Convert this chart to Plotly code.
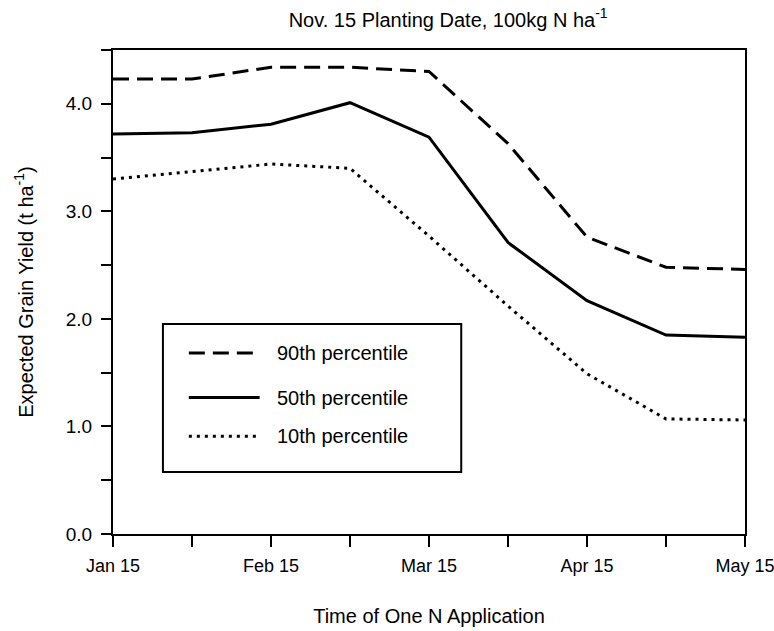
import plotly.graph_objects as go

# Application dates, at half-month steps
dates = ["Jan 15", "Feb 1", "Feb 15", "Mar 1", "Mar 15", "Apr 1", "Apr 15", "May 1", "May 15"]
date_labels = ["Jan 15", "", "Feb 15", "", "Mar 15", "", "Apr 15", "", "May 15"]

# Expected grain yield (t/ha) by percentile
p90 = [4.23, 4.23, 4.34, 4.34, 4.30, 3.63, 2.76, 2.48, 2.46]
p50 = [3.72, 3.73, 3.81, 4.01, 3.69, 2.71, 2.17, 1.85, 1.83]
p10 = [3.30, 3.37, 3.44, 3.40, 2.77, 2.12, 1.49, 1.07, 1.06]

y_ticks = [0, 0.5, 1, 1.5, 2, 2.5, 3, 3.5, 4, 4.5]
y_labels = ["0.0", "", "1.0", "", "2.0", "", "3.0", "", "4.0", ""]

series = [
    ("90th percentile", p90, "16px,8px"),
    ("50th percentile", p50, "solid"),
    ("10th percentile", p10, "3px,5px"),
]

FONT = "Liberation Sans, Arial, Helvetica, sans-serif"
x_idx = list(range(len(dates)))

fig = go.Figure()
for name, vals, dash in series:
    fig.add_trace(go.Scatter(
        x=x_idx, y=vals, mode="lines", name=name,
        line=dict(color="black", width=3, dash=dash),
        hovertext=dates, showlegend=False,
    ))

# Boxed key inside the plot
shapes = [dict(type="rect", xref="paper", yref="paper",
               x0=0.079, x1=0.551, y0=0.128, y1=0.434,
               line=dict(color="black", width=2), fillcolor="white", layer="below")]
annotations = []
key_rows = [0.374, 0.282, 0.202]
for (name, _, dash), yy in zip(series, key_rows):
    shapes.append(dict(type="line", xref="paper", yref="paper",
                       x0=0.120, x1=0.232, y0=yy, y1=yy,
                       line=dict(color="black", width=3, dash=dash)))
    annotations.append(dict(xref="paper", yref="paper", x=0.256, y=yy,
                            text=name, showarrow=False, xanchor="left", yanchor="middle",
                            font=dict(family=FONT, size=20, color="black")))

fig.update_layout(
    width=774, height=631,
    margin=dict(l=113, r=29, t=50, b=97),
    paper_bgcolor="white", plot_bgcolor="white",
    font=dict(family=FONT, size=18, color="black"),
    title=dict(text="Nov. 15 Planting Date, 100kg N ha<sup>-1</sup>",
               x=0.579, xanchor="center", y=0.969, yanchor="middle",
               font=dict(family=FONT, size=20)),
    shapes=shapes, annotations=annotations,
    xaxis=dict(range=[0, 8], tickvals=x_idx, ticktext=date_labels,
               showgrid=False, zeroline=False, automargin=False,
               showline=True, linecolor="black", linewidth=2, mirror=True,
               ticks="outside", ticklen=11, tickwidth=2, tickcolor="black",
               tickfont=dict(family=FONT, size=18), ticklabeloverflow="allow",
               ticklabelstandoff=3,
               title=dict(text="Time of One N Application", standoff=34,
                          font=dict(family=FONT, size=20))),
    yaxis=dict(range=[0, 4.5], tickvals=y_ticks, ticktext=y_labels,
               showgrid=False, zeroline=False, automargin=False,
               showline=True, linecolor="black", linewidth=2, mirror=True,
               ticks="outside", ticklen=10, tickwidth=2, tickcolor="black",
               tickfont=dict(family=FONT, size=19), ticklabelstandoff=5,
               title=dict(text="Expected Grain Yield (t ha<sup>-1</sup>)", standoff=27,
                          font=dict(family=FONT, size=20))),
)

fig.write_html("out.html")
